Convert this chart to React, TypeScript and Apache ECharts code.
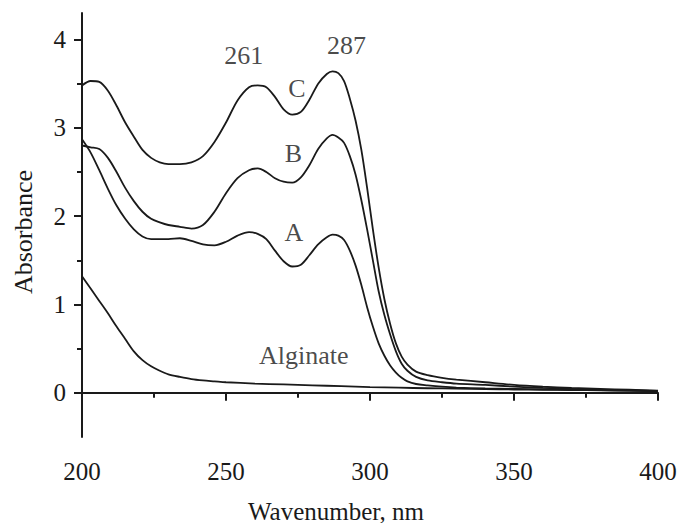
import React, { useEffect, useRef } from "react";
import * as echarts from "echarts";

const wavelengths = [200, 203, 206, 209, 212, 215, 218, 221, 224, 227, 230, 234, 238, 242, 246, 250, 254, 258, 261, 264, 267, 270, 273, 276, 279, 282, 285, 287, 289, 291, 293, 295, 297, 299, 301, 303, 305, 307, 309, 311, 313, 316, 320, 325, 330, 340, 350, 360, 370, 380, 390, 400];

const seriesC = [3.48, 3.53, 3.52, 3.42, 3.25, 3.06, 2.90, 2.75, 2.66, 2.61, 2.59, 2.59, 2.61, 2.68, 2.84, 3.06, 3.31, 3.46, 3.48, 3.46, 3.35, 3.21, 3.15, 3.18, 3.32, 3.50, 3.61, 3.64, 3.62, 3.53, 3.33, 3.08, 2.75, 2.32, 1.85, 1.42, 1.06, 0.78, 0.56, 0.41, 0.32, 0.24, 0.20, 0.17, 0.15, 0.12, 0.09, 0.07, 0.055, 0.045, 0.035, 0.025];

const seriesB = [2.80, 2.78, 2.76, 2.66, 2.50, 2.32, 2.17, 2.05, 1.97, 1.93, 1.90, 1.88, 1.86, 1.90, 2.05, 2.26, 2.43, 2.52, 2.54, 2.50, 2.43, 2.39, 2.38, 2.44, 2.58, 2.76, 2.88, 2.92, 2.89, 2.83, 2.68, 2.47, 2.18, 1.85, 1.50, 1.15, 0.88, 0.66, 0.47, 0.33, 0.25, 0.18, 0.14, 0.12, 0.105, 0.09, 0.07, 0.055, 0.045, 0.035, 0.028, 0.02];

const seriesA = [2.87, 2.72, 2.52, 2.31, 2.12, 1.97, 1.85, 1.77, 1.74, 1.74, 1.74, 1.75, 1.72, 1.68, 1.67, 1.71, 1.78, 1.82, 1.80, 1.74, 1.61, 1.49, 1.43, 1.45, 1.56, 1.68, 1.76, 1.79, 1.78, 1.73, 1.61, 1.44, 1.22, 0.97, 0.75, 0.56, 0.42, 0.31, 0.23, 0.17, 0.13, 0.10, 0.085, 0.07, 0.06, 0.05, 0.045, 0.04, 0.035, 0.03, 0.025, 0.02];

const alginateWavelengths = [200, 203, 206, 209, 212, 215, 218, 221, 224, 227, 230, 234, 238, 242, 246, 250, 260, 270, 280, 290, 300, 310, 320, 330, 340, 350, 360, 370, 380, 390, 400];
const alginate = [1.32, 1.18, 1.04, 0.90, 0.75, 0.61, 0.47, 0.37, 0.30, 0.25, 0.21, 0.18, 0.155, 0.14, 0.13, 0.12, 0.105, 0.095, 0.085, 0.075, 0.065, 0.058, 0.052, 0.047, 0.042, 0.038, 0.035, 0.032, 0.028, 0.025, 0.022];

const annotationTexts = ["261", "287", "C", "B", "A", "Alginate"];
const annotationX = [256.2, 291.8, 274.6, 273.4, 273.6, 277];
const annotationY = [3.82, 3.93, 3.45, 2.71, 1.81, 0.42];

const yMajorTicks = [0, 1, 2, 3, 4];
const yMinorTicks = [0.5, 1.5, 2.5, 3.5];

const FONT = "'Liberation Serif', 'Times New Roman', serif";
const INK = "#1a1a1a";

function zip(xs: number[], ys: number[]) {
  return xs.map((x, i) => [x, ys[i]]);
}

export default function App() {
  const ref = useRef<HTMLDivElement>(null);
  useEffect(() => {
    if (!ref.current) return;
    const chart = echarts.init(ref.current, undefined, { renderer: "svg" });
    const lineStyle = { color: INK, width: 1.8 };
    const mkLine = (name: string, xs: number[], ys: number[]) => ({
      name,
      type: "line",
      data: zip(xs, ys),
      showSymbol: false,
      symbol: "none",
      smooth: 0.3,
      lineStyle,
      silent: true,
    });
    chart.setOption({
      animation: false,
      backgroundColor: "#ffffff",
      grid: { left: 82, right: 19, top: 13, bottom: 86, outerBoundsMode: "none", containLabel: false },
      xAxis: {
        type: "value",
        min: 200,
        max: 400,
        interval: 50,
        name: "Wavenumber, nm",
        nameLocation: "middle",
        nameGap: 63,
        nameTextStyle: { fontFamily: FONT, fontSize: 25, lineHeight: 22, color: INK, padding: [0, 68, 0, 0] },
        axisLine: { show: true, lineStyle: { color: INK, width: 2 } },
        axisTick: { show: true, length: 8, lineStyle: { color: INK, width: 2 } },
        minorTick: { show: true, splitNumber: 2, length: 5, lineStyle: { color: INK, width: 2 } },
        axisLabel: { margin: 22, fontFamily: FONT, fontSize: 25, color: INK },
        splitLine: { show: false },
        minorSplitLine: { show: false },
      },
      yAxis: [
        {
          type: "value",
          min: -0.5,
          max: 4.3,
          name: "Absorbance",
          nameLocation: "middle",
          nameGap: 46,
          nameTextStyle: { fontFamily: FONT, fontSize: 26, color: INK, padding: [0, 14, 0, 0] },
          axisLine: { show: true, lineStyle: { color: INK, width: 2 } },
          axisTick: { show: true, length: 8, customValues: yMajorTicks, lineStyle: { color: INK, width: 2 } },
          axisLabel: { margin: 16, customValues: yMajorTicks, fontFamily: FONT, fontSize: 25, color: INK },
          splitLine: { show: false },
        },
        {
          type: "value",
          min: -0.5,
          max: 4.3,
          position: "left",
          offset: 0,
          axisLine: { show: false },
          axisTick: { show: true, length: 5, customValues: yMinorTicks, lineStyle: { color: INK, width: 2 } },
          axisLabel: { show: false },
          splitLine: { show: false },
        },
      ],
      series: [
        mkLine("C", wavelengths, seriesC),
        mkLine("B", wavelengths, seriesB),
        mkLine("A", wavelengths, seriesA),
        mkLine("Alginate", alginateWavelengths, alginate),
        {
          name: "labels",
          type: "scatter",
          symbolSize: 0,
          silent: true,
          data: annotationTexts.map((t, i) => ({ value: [annotationX[i], annotationY[i]], name: t })),
          label: {
            show: true,
            position: "inside",
            formatter: (p: any) => p.name,
            fontFamily: FONT,
            fontSize: 26,
            color: INK,
          },
        },
      ],
    });
    return () => chart.dispose();
  }, []);
  return <div ref={ref} style={{ width: 677, height: 523, position: "absolute", left: 0, top: 0 }} />;
}
